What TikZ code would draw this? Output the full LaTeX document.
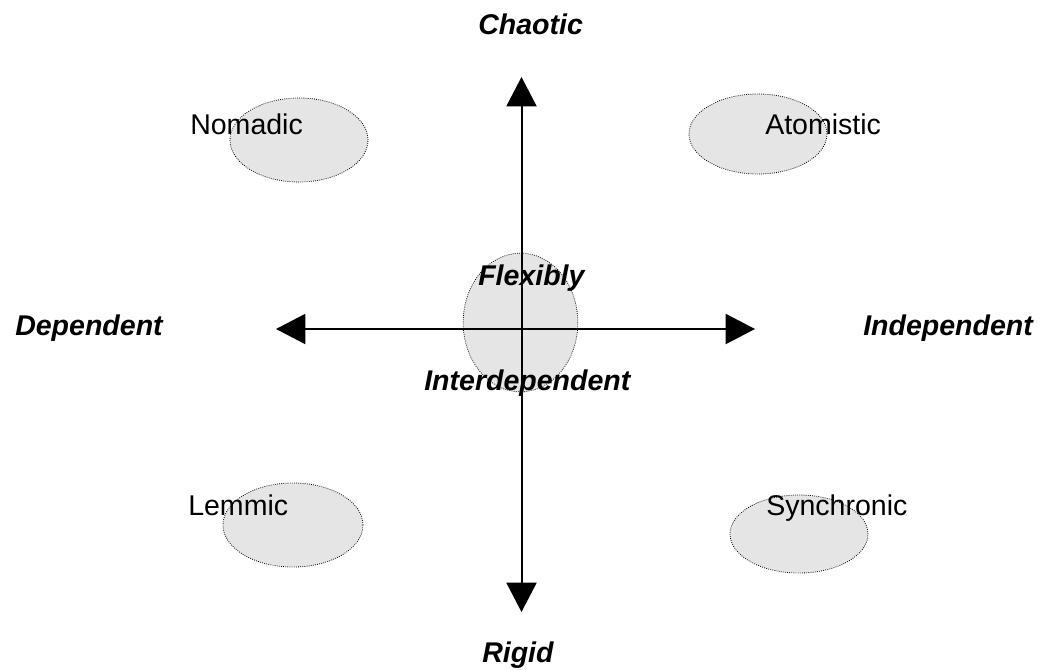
\documentclass[tikz,border=0pt]{standalone}
\usepackage{fontspec}
\setmainfont{Liberation Sans}
\usetikzlibrary{shapes.geometric,arrows.meta}
\begin{document}
\begin{tikzpicture}[x=0.75pt,y=-0.75pt,
  blob/.style={ellipse,draw=black,densely dotted,line width=0.6pt,fill=black!10,inner sep=0pt},
  lab/.style={anchor=base west,inner sep=0pt,font=\fontsize{21.4}{24}\selectfont},
  axlab/.style={anchor=base west,inner sep=0pt,font=\fontsize{21.4}{24}\selectfont\bfseries\itshape},
  axis/.style={line width=1.5pt,{Triangle[width=22.5pt,length=22pt]}-{Triangle[width=22.5pt,length=22pt]}}]
\useasboundingbox (0,0) rectangle (1041,670);
% ellipses
\node[blob,minimum width=103.5pt,minimum height=63pt] (enom) at (299,140) {};
\node[blob,minimum width=103.5pt,minimum height=60pt] (eato) at (758,134) {};
\node[blob,minimum width=105pt,minimum height=63pt] (elem) at (293,525) {};
\node[blob,minimum width=103.5pt,minimum height=58.5pt] (esyn) at (799,534) {};
\node[blob,minimum width=86pt,minimum height=104pt] (ecen) at (520.5,322.5) {};
% axes
\coordinate (top) at (521.5,77);
\coordinate (bot) at (521.5,612);
\coordinate (lft) at (276,329);
\coordinate (rgt) at (755,329);
\draw[axis] (bot) -- (top);
\draw[axis] (lft) -- (rgt);
% labels
\node[lab] (nom) at (190,135) {Nomadic};
\node[lab] (ato) at (765,135) {Atomistic};
\node[lab] (lem) at (188,515) {Lemmic};
\node[lab] (syn) at (766,515) {Synchronic};
\node[axlab] (cha) at (478,35) {Chaotic};
\node[axlab] (rig) at (482,662) {Rigid};
\node[axlab] (dep) at (15,335) {Dependent};
\node[axlab] (ind) at (863,335) {Independent};
\node[axlab] (fle) at (478,285) {Flexibly};
\node[axlab] (int) at (424,390) {Interdependent};
\end{tikzpicture}
\end{document}
